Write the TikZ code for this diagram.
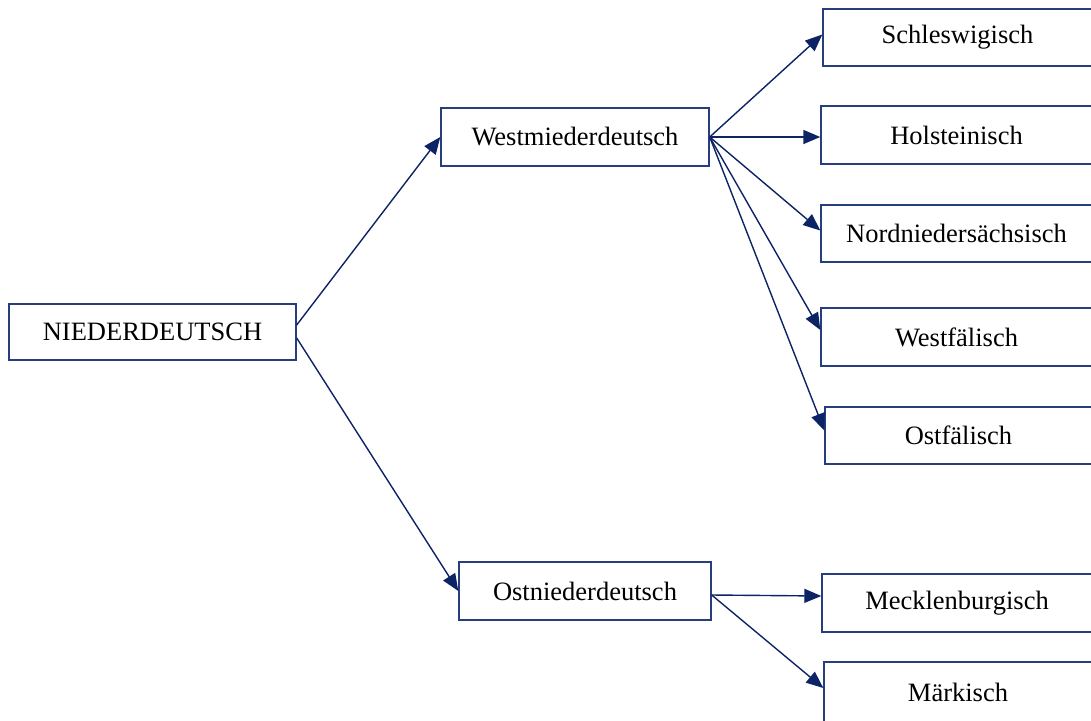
\documentclass[tikz,border=0pt]{standalone}
\usepackage{fontspec}
\setmainfont{Liberation Serif}
\usetikzlibrary{arrows.meta}
\definecolor{boxcol}{RGB}{38,62,128}
\definecolor{arrcol}{RGB}{12,36,102}
\tikzset{
  box/.style={draw=boxcol, line width=1.4pt, inner sep=0pt, font=\fontsize{26.5}{30}\selectfont, text=black},
  conn/.style={draw=arrcol, line width=1.4pt, -{Triangle[length=17pt,width=14pt]}},
}
\begin{document}
\begin{tikzpicture}[x=1pt,y=-1pt]
\useasboundingbox (0,0) rectangle (1091,720);
\clip (0,0) rectangle (1091,720);
\node[box, minimum width=287pt, minimum height=56pt] (nd) at (152.5,332) {NIEDERDEUTSCH};
\node[box, minimum width=268pt, minimum height=58pt] (wm) at (575,137) {Westmiederdeutsch};
\node[box, minimum width=252pt, minimum height=58pt] (om) at (585,591) {Ostniederdeutsch};
\node[box, minimum width=269pt, minimum height=57pt] (sc) at (957.5,37.5) {Schleswigisch};
\node[box, minimum width=271pt, minimum height=58pt] (ho) at (956.5,135) {Holsteinisch};
\node[box, minimum width=271pt, minimum height=57pt] (nn) at (956.5,233.5) {Nordniedersächsisch};
\node[box, minimum width=271pt, minimum height=58pt] (wf) at (956.5,337) {Westfälisch};
\node[box, minimum width=267pt, minimum height=57pt] (of) at (958.5,435.5) {Ostfälisch};
\node[box, minimum width=270pt, minimum height=58pt] (me) at (957,603) {Mecklenburgisch};
\node[box, minimum width=268pt, minimum height=60pt] (mk) at (958,692) {Märkisch};
\draw[conn] ([yshift=7pt]nd.east) -- (wm.west);
\draw[conn] ([yshift=-6pt]nd.east) -- (om.west);
\draw[conn] (wm.east) -- ([yshift=3pt]sc.west);
\draw[conn] (wm.east) -- ([yshift=-2pt]ho.west);
\draw[conn] (wm.east) -- ([yshift=3pt]nn.west);
\draw[conn] (wm.east) -- ([yshift=7pt]wf.west);
\draw[conn] (wm.east) -- ([yshift=5pt]of.west);
\draw[conn] ([yshift=-4pt]om.east) -- ([yshift=7pt]me.west);
\draw[conn] ([yshift=-4pt]om.east) -- ([yshift=4pt]mk.west);
\end{tikzpicture}
\end{document}
